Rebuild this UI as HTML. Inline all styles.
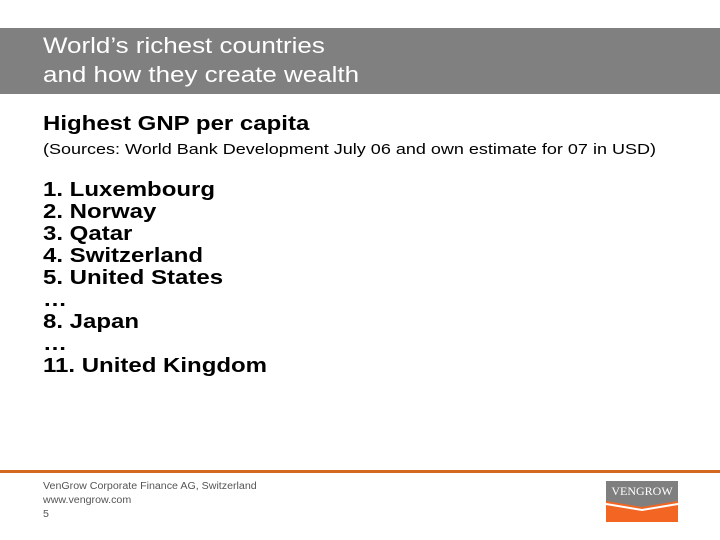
<!DOCTYPE html>
<html><head><meta charset="utf-8"><style>
body{margin:0;width:720px;height:540px;background:#fff;font-family:"Liberation Sans",Arial,sans-serif;position:relative;overflow:hidden}
.a{position:absolute;white-space:nowrap}
.s{transform-origin:0 0;transform:scaleX(1.18)}
</style></head><body>
<div class="a" style="left:0;top:28px;width:720px;height:66px;background:#808080"></div>
<div class="a s" style="left:43px;top:31px;color:#fff;font-size:22px;line-height:29px">World’s richest countries<br>and how they create wealth</div>
<div class="a s" style="left:43px;top:113px;font-size:20px;font-weight:bold;color:#000;transform:scaleX(1.2)">Highest GNP per capita</div>
<div class="a s" style="left:43px;top:141px;font-size:15px;color:#000;transform:scaleX(1.2)">(Sources: World Bank Development July 06 and own estimate for 07 in USD)</div>
<div class="a s" style="left:43px;top:179px;font-size:20px;font-weight:bold;line-height:22px;color:#000;transform:scaleX(1.2)">1. Luxembourg<br>2. Norway<br>3. Qatar<br>4. Switzerland<br>5. United States<br>…<br>8. Japan<br>…<br>11. United Kingdom</div>
<div class="a" style="left:0;top:470px;width:720px;height:3px;background:#d2691e"></div>
<div class="a s" style="left:43px;top:480px;font-size:10px;line-height:14px;color:#555;transform:scaleX(1.065)">VenGrow Corporate Finance AG, Switzerland<br>www.vengrow.com<br>5</div>
<svg class="a" style="left:606px;top:481px" width="72" height="41" viewBox="0 0 72 41">
<rect width="72" height="41" fill="#f26522"/>
<polygon points="0,0 72,0 72,20 36,26 0,20" fill="#7f7f7f"/>
<polyline points="0,23 36,29 72,23" fill="none" stroke="#fff" stroke-width="2"/>
<text x="36" y="14" text-anchor="middle" fill="#fff" font-family="Liberation Serif,serif" font-size="12">VENGROW</text>
</svg>
</body></html>
